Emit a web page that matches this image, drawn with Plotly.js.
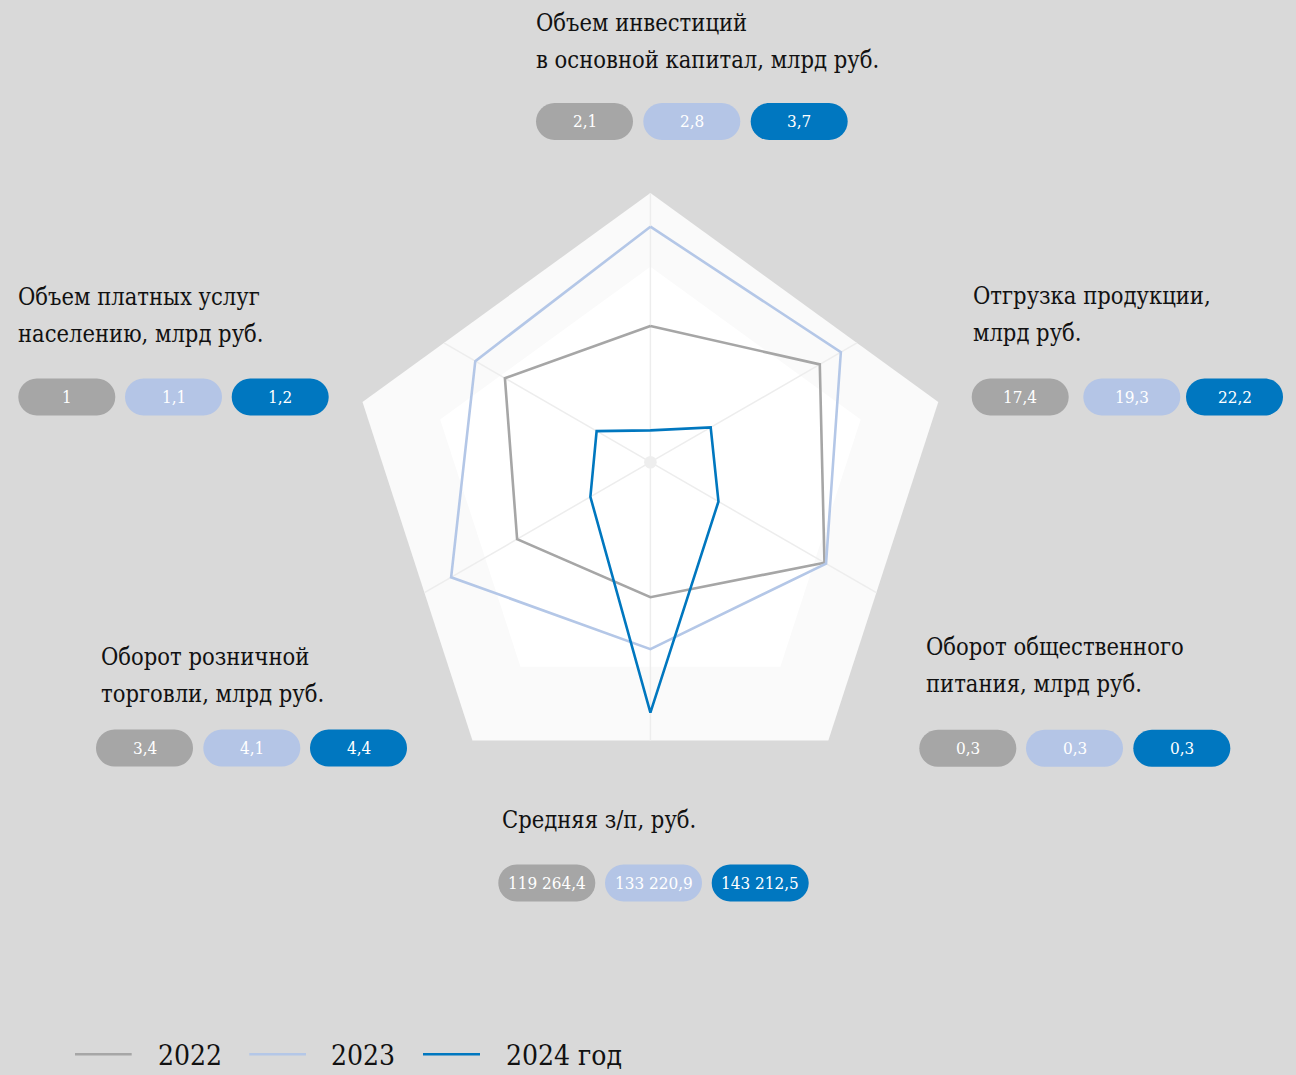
<!DOCTYPE html>
<html><head><meta charset="utf-8">
<script src="https://cdn.plot.ly/plotly-3.0.1.min.js"></script>
<style>html,body{margin:0;padding:0;background:#d9d9d9;overflow:hidden}</style>
</head><body><div id="chart" style="width:1296px;height:1075px"></div>
<script>
// ---------- data ----------
const categories = [
  'Объем инвестиций в основной капитал, млрд руб.',
  'Отгрузка продукции, млрд руб.',
  'Оборот общественного питания, млрд руб.',
  'Средняя з/п, руб.',
  'Оборот розничной торговли, млрд руб.',
  'Объем платных услуг населению, млрд руб.'
];
const labelLines = [
  ['Объем инвестиций', 'в основной капитал, млрд руб.'],
  ['Отгрузка продукции,', 'млрд руб.'],
  ['Оборот общественного', 'питания, млрд руб.'],
  ['Средняя з/п, руб.'],
  ['Оборот розничной', 'торговли, млрд руб.'],
  ['Объем платных услуг', 'населению, млрд руб.']
];
const years = ['2022', '2023', '2024 год'];
const values2022 = ['2,1', '17,4', '0,3', '119 264,4', '3,4', '1'];
const values2023 = ['2,8', '19,3', '0,3', '133 220,9', '4,1', '1,1'];
const values2024 = ['3,7', '22,2', '0,3', '143 212,5', '4,4', '1,2'];
// plotted (index) radii, 0..100 scale
const r2022 = [45.4, 65.2, 67.0, 45.0, 51.3, 56.0];
const r2023 = [78.5, 73.3, 67.6, 62.3, 76.7, 67.4];
const r2024 = [10.6, 23.2, 26.2, 83.5, 23.1, 20.7];

// ---------- styling / layout constants ----------
const W = 1296, H = 1075;
const FONT = "'DejaVu Serif Condensed', 'Liberation Sans Narrow', 'DejaVu Sans Condensed', serif";
const PILL_FONT = FONT;
const colors = ['#a6a6a6', '#b4c7e7', '#0077bf'];
const pillColors = ['#a6a6a6', '#b4c5e6', '#0077c0'];
const CX = 650.4, CY = 462.2, R = 300;          // polar centre & radius (px)
const X = px => px / W, Y = py => 1 - py / H;

// label blocks: text left x, first line centre y, pill row centre y, pill lefts
const blocks = [
  {tx: 534,   ty: 23,  py: 121.5, pl: [536, 643.3, 750.7]},
  {tx: 970.7, ty: 296, py: 397,   pl: [971.7, 1083.3, 1186]},
  {tx: 923.7, ty: 647, py: 748.3, pl: [919.3, 1026, 1133.3]},
  {tx: 499.7, ty: 820, py: 883,   pl: [498.3, 605, 711.7]},
  {tx: 98.7,  ty: 657, py: 748,   pl: [96, 203.3, 310]},
  {tx: 16.3,  ty: 297, py: 397,   pl: [18.3, 125, 231.7]}
];
const LINE_GAP = 36.7, PILL_W = 97, PILL_H = 37;

// ---------- traces ----------
const rs = [r2022, r2023, r2024];
const traces = rs.map((r, i) => ({
  type: 'scatterpolar', mode: 'lines',
  r: r.concat([r[0]]), theta: categories.concat([categories[0]]),
  name: years[i], line: {color: colors[i], width: 2.6},
  hoverinfo: 'skip', showlegend: false
}));

// ---------- decoration shapes ----------
function pent(cx, cy, rad) {
  const pts = [];
  for (let k = 0; k < 5; k++) {
    const a = (-90 + 72 * k) * Math.PI / 180;
    pts.push([cx + rad * Math.cos(a), cy + rad * Math.sin(a)]);
  }
  return pts;
}
function pathOf(pts) {
  return 'M' + pts.map(p => X(p[0]) + ',' + Y(p[1])).join('L') + 'Z';
}
const outerPent = pent(650.4, 495.6, 302.7);
const innerPent = pent(650.4, 487.8, 221.1);
const shapes = [];
shapes.push({type: 'path', xref: 'paper', yref: 'paper', path: pathOf(outerPent), fillcolor: '#fafafa', line: {width: 0}, layer: 'below'});
shapes.push({type: 'path', xref: 'paper', yref: 'paper', path: pathOf(innerPent), fillcolor: '#ffffff', line: {width: 0}, layer: 'below'});
// spokes to pentagon edge
function rayHit(ang) {
  const dx = Math.cos(ang), dy = Math.sin(ang);
  let best = Infinity;
  for (let k = 0; k < 5; k++) {
    const [x1, y1] = outerPent[k], [x2, y2] = outerPent[(k + 1) % 5];
    const ex = x2 - x1, ey = y2 - y1;
    const den = dx * ey - dy * ex;
    if (Math.abs(den) < 1e-9) continue;
    const t = ((x1 - CX) * ey - (y1 - CY) * ex) / den;
    const u = ((x1 - CX) * dy - (y1 - CY) * dx) / den;
    if (t > 0 && u >= 0 && u <= 1 && t < best) best = t;
  }
  return [CX + best * dx, CY + best * dy];
}
for (let k = 0; k < 6; k++) {
  const ang = (-90 + 60 * k) * Math.PI / 180;
  const [ex, ey] = rayHit(ang);
  shapes.push({type: 'line', xref: 'paper', yref: 'paper', x0: X(CX), y0: Y(CY), x1: X(ex), y1: Y(ey), line: {color: '#ededed', width: 1.5}, layer: 'below'});
}
shapes.push({type: 'circle', xref: 'paper', yref: 'paper', x0: X(CX - 6.3), x1: X(CX + 6.3), y0: Y(CY + 6.3), y1: Y(CY - 6.3), fillcolor: '#eeeeee', line: {width: 0}, layer: 'below'});

function pillPath(left, cy, w, h) {
  const r = h / 2, k = 0.5523 * r;
  const l = left + r, rr = left + w - r, t = cy - r, b = cy + r;
  const P = (x, y) => X(x) + ',' + Y(y);
  return 'M' + P(l, t) + 'L' + P(rr, t) +
    'C' + P(rr + k, t) + ' ' + P(rr + r, cy - k) + ' ' + P(rr + r, cy) +
    'C' + P(rr + r, cy + k) + ' ' + P(rr + k, b) + ' ' + P(rr, b) +
    'L' + P(l, b) +
    'C' + P(l - k, b) + ' ' + P(l - r, cy + k) + ' ' + P(l - r, cy) +
    'C' + P(l - r, cy - k) + ' ' + P(l - k, t) + ' ' + P(l, t) + 'Z';
}

const annotations = [];
const vals = [values2022, values2023, values2024];
blocks.forEach((b, i) => {
  labelLines[i].forEach((txt, j) => {
    annotations.push({xref: 'paper', yref: 'paper', x: X(b.tx), y: Y(b.ty + j * LINE_GAP), xanchor: 'left', yanchor: 'middle',
      text: txt, showarrow: false, font: {family: FONT, size: 23.5, color: '#111111'}});
  });
  for (let s = 0; s < 3; s++) {
    shapes.push({type: 'path', xref: 'paper', yref: 'paper', path: pillPath(b.pl[s], b.py, PILL_W, PILL_H), fillcolor: pillColors[s], line: {width: 0}, layer: 'below'});
    annotations.push({xref: 'paper', yref: 'paper', x: X(b.pl[s] + PILL_W / 2), y: Y(b.py), xanchor: 'center', yanchor: 'middle',
      text: vals[s][i], showarrow: false, font: {family: PILL_FONT, size: 17, color: '#ffffff'}});
  }
});

// legend (drawn manually)
const legLines = [[75, 131.7], [249.3, 306], [423, 480]];
const legText = [155.7, 329, 504];
legLines.forEach((ln, i) => {
  shapes.push({type: 'line', xref: 'paper', yref: 'paper', x0: X(ln[0]), x1: X(ln[1]), y0: Y(1054.3), y1: Y(1054.3), line: {color: colors[i], width: 2.6}});
  annotations.push({xref: 'paper', yref: 'paper', x: X(legText[i]), y: Y(1055), xanchor: 'left', yanchor: 'middle',
    text: years[i], showarrow: false, font: {family: FONT, size: 28, color: '#111111'}});
});

const layout = {
  width: W, height: H, margin: {l: 0, r: 0, t: 0, b: 0},
  paper_bgcolor: '#d9d9d9', plot_bgcolor: 'rgba(0,0,0,0)',
  showlegend: false,
  polar: {
    domain: {x: [X(CX - R), X(CX + R)], y: [Y(CY + R), Y(CY - R)]},
    bgcolor: 'rgba(0,0,0,0)', gridshape: 'linear',
    radialaxis: {visible: false, range: [0, 100]},
    angularaxis: {rotation: 90, direction: 'clockwise', showgrid: false, showline: false, showticklabels: false, ticks: ''}
  },
  shapes: shapes, annotations: annotations
};
Plotly.newPlot('chart', traces, layout, {displayModeBar: false, staticPlot: true});
</script></body></html>
